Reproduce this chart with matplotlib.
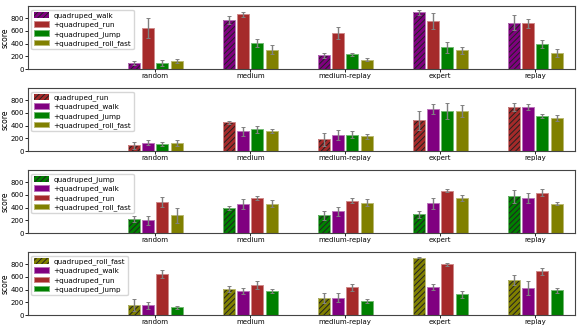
import numpy as np
import matplotlib
matplotlib.use("Agg")
import matplotlib.pyplot as plt
from matplotlib.colors import to_rgba

datasets = ["random", "medium", "medium-replay", "expert", "replay"]

colors = {"walk": "purple", "run": "brown", "jump": "green", "roll_fast": "olive"}

# panel 1: quadruped_walk base
p1_tasks = ["walk", "run", "jump", "roll_fast"]
p1_mean = [[94, 774, 214, 894, 727],
           [643, 858, 565, 753, 722],
           [99, 408, 230, 340, 397],
           [126, 303, 146, 293, 251]]
p1_err = [[35, 60, 35, 40, 120],
          [155, 35, 100, 120, 70],
          [50, 60, 20, 90, 60],
          [30, 70, 20, 50, 65]]

# panel 2: quadruped_run base
p2_tasks = ["run", "walk", "jump", "roll_fast"]
p2_mean = [[88, 449, 186, 480, 691],
           [129, 310, 248, 655, 691],
           [108, 340, 258, 630, 547],
           [129, 310, 232, 630, 516]]
p2_err = [[50, 25, 105, 150, 60],
          [40, 75, 75, 80, 40],
          [35, 60, 50, 120, 35],
          [50, 30, 40, 95, 45]]

# panel 3: quadruped_jump base
p3_tasks = ["jump", "walk", "run", "roll_fast"]
p3_mean = [[221, 390, 277, 298, 575],
           [200, 456, 339, 467, 554],
           [492, 549, 508, 667, 636],
           [277, 462, 472, 554, 462]]
p3_err = [[50, 35, 65, 55, 100],
          [70, 75, 65, 85, 80],
          [80, 30, 35, 25, 50],
          [120, 50, 55, 50, 25]]

# panel 4: quadruped_roll_fast base
p4_tasks = ["roll_fast", "walk", "run", "jump"]
p4_mean = [[155, 413, 273, 903, 552],
           [155, 377, 273, 444, 418],
           [645, 475, 433, 800, 686],
           [119, 377, 227, 325, 387]]
p4_err = [[90, 50, 80, 5, 80],
          [55, 45, 75, 50, 110],
          [70, 65, 55, 25, 55],
          [30, 30, 30, 55, 40]]

panels = [(p1_tasks, p1_mean, p1_err), (p2_tasks, p2_mean, p2_err),
          (p3_tasks, p3_mean, p3_err), (p4_tasks, p4_mean, p4_err)]


def light(c, f=0.45):
    r, g, b, _ = to_rgba(c)
    return (r + (1 - r) * f, g + (1 - g) * f, b + (1 - b) * f)


plt.rcParams["hatch.linewidth"] = 0.7

fig, axes = plt.subplots(4, 1, figsize=(5.81, 3.32), dpi=100)
fig.subplots_adjust(left=0.048, right=0.99, top=0.982, bottom=0.051, hspace=0.30)

x = np.arange(len(datasets))
w = 0.15
ekw = dict(ecolor="grey", elinewidth=1, capsize=1.2, capthick=0.7)
for ax, (tasks, means, errs) in zip(axes, panels):
    for k, (t, m, e) in enumerate(zip(tasks, means, errs)):
        pos = x + (k - 1.5) * w
        if k == 0:
            # hatched base task: dark hatch, light outline on top
            ax.bar(pos, m, width=w * 0.85, color=colors[t], edgecolor="#222222",
                   linewidth=0, hatch="//////", label="quadruped_" + t)
            ax.bar(pos, m, width=w * 0.85, fill=False, edgecolor=light(colors[t]),
                   linewidth=0.7, yerr=e, error_kw=ekw)
        else:
            ax.bar(pos, m, width=w * 0.85, color=colors[t],
                   edgecolor=light(colors[t]), linewidth=0.7,
                   label="+quadruped_" + t, yerr=e, error_kw=ekw)
    ax.set_xlim(-1.34, 4.42)
    ax.set_ylim(0, 990)
    ax.set_yticks([0, 200, 400, 600, 800])
    ax.set_xticks(x)
    ax.set_xticklabels(datasets)
    ax.tick_params(labelsize=5, length=2, width=0.6, pad=1)
    ax.set_ylabel("score", fontsize=5.5, labelpad=0.5)
    for s in ax.spines.values():
        s.set_linewidth(0.8)
        s.set_color("#444444")
    ax.legend(loc="upper left", fontsize=5.2, handlelength=2.1, handleheight=0.8,
              borderpad=0.35, labelspacing=0.3, handletextpad=0.6, framealpha=0.8)

fig.savefig("out.png", dpi=100)
